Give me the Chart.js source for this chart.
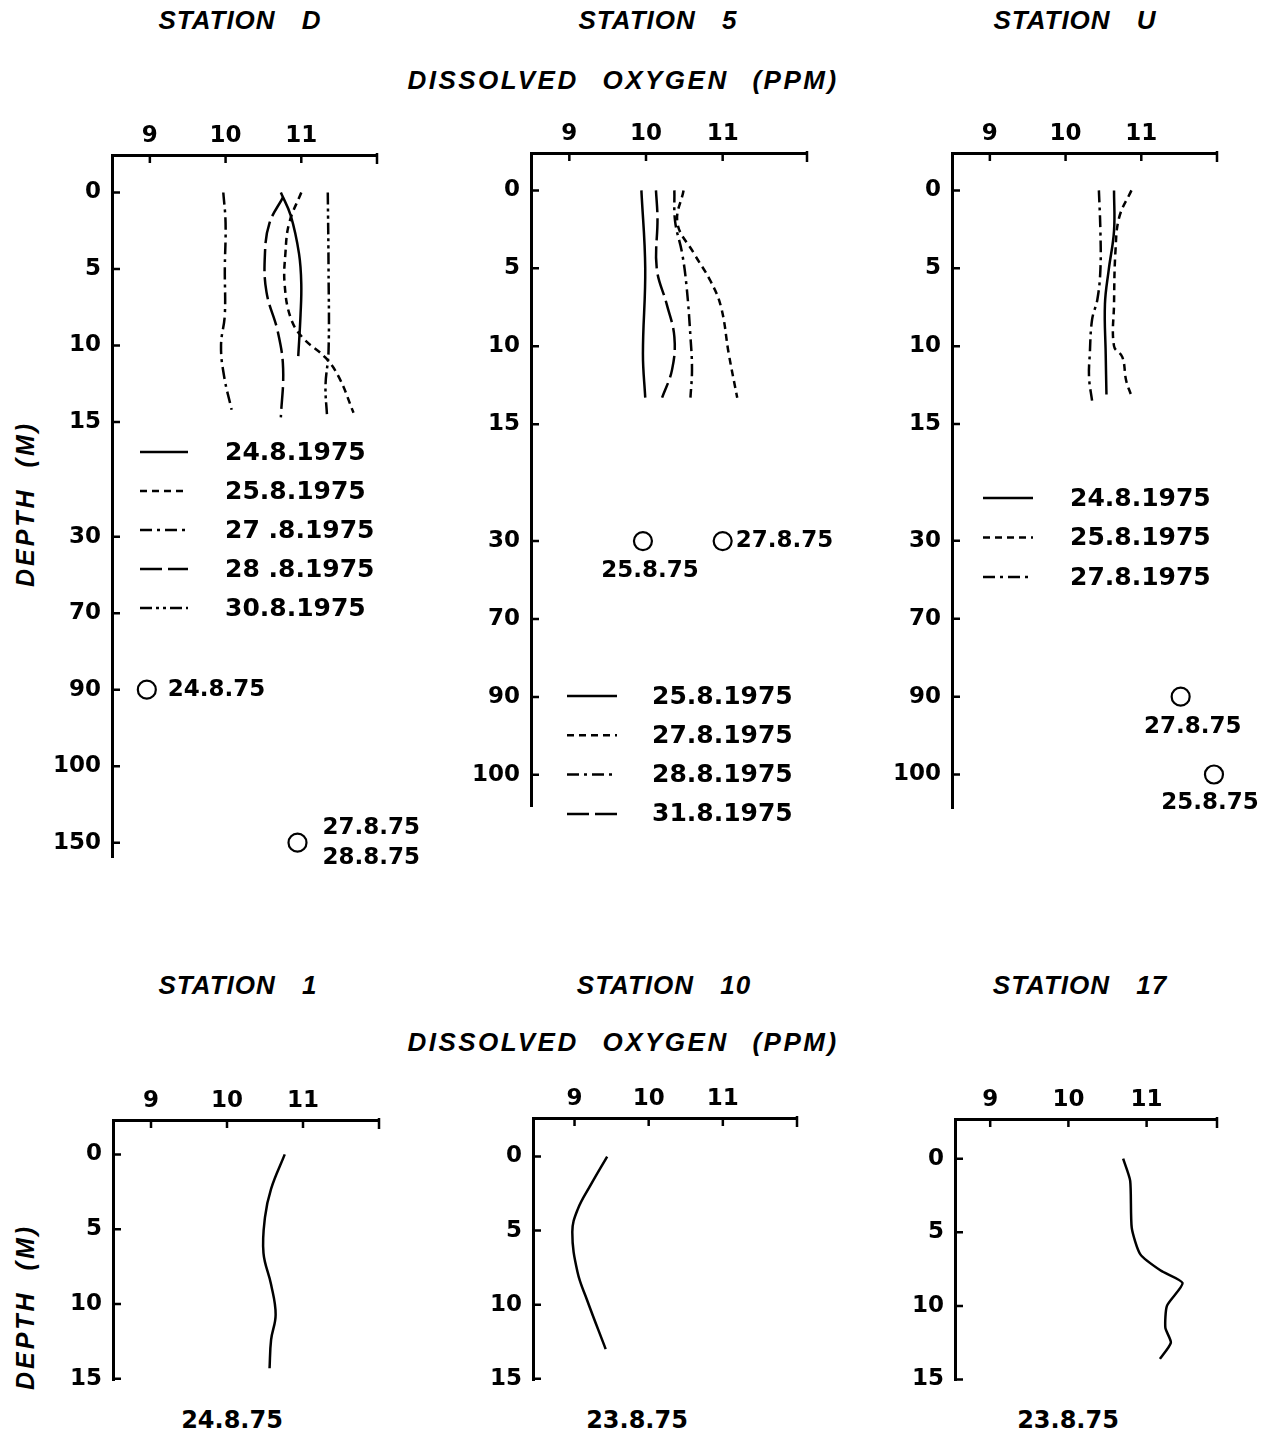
<!DOCTYPE html>
<html>
<head>
<meta charset="utf-8">
<script src="https://cdn.jsdelivr.net/npm/chart.js@4.4.1/dist/chart.umd.min.js"></script>
<style>
  html, body { margin: 0; padding: 0; background: #fff; }
  #page { position: relative; width: 1281px; height: 1437px; overflow: hidden; background: #fff; }
  #page canvas { position: absolute; }
  .t { position: absolute; transform: translate(-50%, -50%); white-space: nowrap; color: #000;
       font-family: "Liberation Sans", Arial, sans-serif; font-weight: bold; font-style: italic;
       font-size: 26px; letter-spacing: 1px; word-spacing: 18px; }
  .big { letter-spacing: 2.5px; word-spacing: 14px; }
  .ylab { transform: translate(-50%, -50%) rotate(-90deg); font-size: 25px; letter-spacing: 3px; word-spacing: 10px; }
  .date { font-family: "DejaVu Sans", sans-serif; font-style: normal; font-size: 24px; letter-spacing: 0; }
</style>
</head>
<body>
<div id="page">
  <div class="t" style="left:240px; top:20px;">STATION D</div>
  <div class="t" style="left:658px; top:20px;">STATION 5</div>
  <div class="t" style="left:1075px; top:20px;">STATION U</div>
  <div class="t big" style="left:623px; top:80px;">DISSOLVED OXYGEN (PPM)</div>
  <div class="t ylab" style="left:25px; top:504px;">DEPTH (M)</div>

  <div class="t" style="left:238px; top:985px;">STATION 1</div>
  <div class="t" style="left:664px; top:985px;">STATION 10</div>
  <div class="t" style="left:1080px; top:985px;">STATION 17</div>
  <div class="t big" style="left:623px; top:1042px;">DISSOLVED OXYGEN (PPM)</div>
  <div class="t ylab" style="left:25px; top:1307px;">DEPTH (M)</div>

  <div class="t date" style="left:232px; top:1420px;">24.8.75</div>
  <div class="t date" style="left:637px; top:1420px;">23.8.75</div>
  <div class="t date" style="left:1068px; top:1420px;">23.8.75</div>
</div>
<script>
// depth axis: labels and their (broken) spacing
const DEPTH_TICKS = [0, 5, 10, 15, 30, 70, 90, 100, 150];
const TICK_POS = [0, 1, 2, 3, 4.5, 5.5, 6.5, 7.5, 8.5];
const DO_TICKS = [9, 10, 11];

// ---- Station D ----
const D_248_DEPTH = [0, 1.5, 4, 6, 8, 10.7];
const D_248_DO = [10.73, 10.86, 10.97, 11.0, 10.99, 10.96];
const D_258_DEPTH = [0, 2, 4, 6, 8.2, 9.5, 10.8, 12.1, 14.4];
const D_258_DO = [11.0, 10.84, 10.79, 10.78, 10.86, 11.02, 11.32, 11.5, 11.69];
const D_278_DEPTH = [0, 2, 5, 8, 10, 12, 14.2];
const D_278_DO = [9.97, 10.0, 9.99, 9.99, 9.94, 9.98, 10.08];
const D_288_DEPTH = [0.3, 2, 4, 6.5, 9.1, 11.5, 14.7];
const D_288_DO = [10.76, 10.58, 10.52, 10.54, 10.69, 10.76, 10.73];
const D_308_DEPTH = [0, 5, 10.4, 12.6, 14.6];
const D_308_DO = [11.35, 11.36, 11.36, 11.32, 11.34];
const D_PT_DEPTH = [90, 150];
const D_PT_DO = [8.96, 10.95];
const D_PT_LABEL = [['24.8.75'], ['27.8.75', '28.8.75']];

// ---- Station 5 ----
const S5_258_DEPTH = [0, 5, 10.5, 13.3];
const S5_258_DO = [9.94, 9.99, 9.96, 9.99];
const S5_278_DEPTH = [0, 2.1, 4, 5.8, 7.5, 10.5, 13.3];
const S5_278_DO = [10.49, 10.41, 10.62, 10.84, 10.98, 11.08, 11.19];
const S5_288_DEPTH = [0, 2, 4, 6.2, 9.4, 11.5, 13.3];
const S5_288_DO = [10.37, 10.38, 10.47, 10.53, 10.58, 10.6, 10.58];
const S5_318_DEPTH = [0, 1.8, 5, 7.3, 9.4, 11.5, 13.3];
const S5_318_DO = [10.13, 10.15, 10.14, 10.27, 10.37, 10.34, 10.21];
const S5_PT_DEPTH = [30, 30];
const S5_PT_DO = [9.96, 11.0];
const S5_PT_LABEL = [['25.8.75'], ['27.8.75']];

// ---- Station U ----
const U_248_DEPTH = [0, 2.6, 5.1, 7.3, 10.5, 13.1];
const U_248_DO = [10.64, 10.64, 10.57, 10.52, 10.53, 10.54];
const U_258_DEPTH = [0, 1.7, 3.8, 7.3, 10, 10.7, 12.2, 13.2];
const U_258_DO = [10.87, 10.71, 10.66, 10.64, 10.64, 10.75, 10.8, 10.87];
const U_278_DEPTH = [0, 2.6, 5.1, 7, 8.3, 10.5, 12, 13.5];
const U_278_DO = [10.44, 10.46, 10.46, 10.42, 10.35, 10.32, 10.31, 10.35];
const U_PT_DEPTH = [90, 100];
const U_PT_DO = [11.52, 11.96];
const U_PT_LABEL = [['27.8.75'], ['25.8.75']];

// ---- bottom row ----
const S1_DEPTH = [0, 2.3, 4.2, 6.6, 8.7, 10.7, 12.4, 14.3];
const S1_DO = [10.76, 10.58, 10.5, 10.48, 10.58, 10.64, 10.58, 10.56];
const S10_DEPTH = [0, 1.9, 3.6, 5.1, 7.8, 9.7, 13.0];
const S10_DO = [9.44, 9.22, 9.04, 8.97, 9.04, 9.17, 9.42];
const S17_DEPTH = [0, 1.5, 4.7, 6.5, 7.6, 8.45, 10.0, 11.5, 12.5, 13.6];
const S17_DO = [10.7, 10.79, 10.81, 10.92, 11.18, 11.46, 11.26, 11.24, 11.31, 11.17];

// line styles
const SOLID = [];
const SHORT_DASH = [7, 5];
const DASH_DOT = [12, 5, 3, 5];
const LONG_DASH = [22, 6];
const DASH_DOT_DOT = [12, 4, 3, 4, 3, 4];

function depthToPos(d) {
  for (let i = 1; i < DEPTH_TICKS.length; i++) {
    if (d <= DEPTH_TICKS[i]) {
      const f = (d - DEPTH_TICKS[i - 1]) / (DEPTH_TICKS[i] - DEPTH_TICKS[i - 1]);
      return TICK_POS[i - 1] + f * (TICK_POS[i] - TICK_POS[i - 1]);
    }
  }
  return TICK_POS[TICK_POS.length - 1];
}

function profile(label, depths, values, dash, tension) {
  return {
    label: label,
    data: depths.map((d, i) => ({ x: values[i], y: depthToPos(d) })),
    showLine: true,
    borderColor: '#000',
    borderWidth: 2.5,
    borderDash: dash,
    pointRadius: 0,
    tension: tension === undefined ? 0.4 : tension,
    clip: false
  };
}

function points(depths, values) {
  return {
    isPoint: true,
    data: depths.map((d, i) => ({ x: values[i], y: depthToPos(d) })),
    showLine: false,
    pointRadius: 9,
    pointBorderWidth: 2.2,
    pointBorderColor: '#000',
    pointBackgroundColor: '#fff',
    clip: false
  };
}

const TICK_FONT = { family: 'DejaVu Sans', weight: 'bold', size: 23 };

const decor = {
  id: 'decor',
  afterDraw(chart, args, opts) {
    const { ctx, chartArea: a, scales: { x, y } } = chart;
    ctx.save();
    ctx.strokeStyle = '#000';
    ctx.fillStyle = '#000';
    ctx.lineWidth = 2.5;
    ctx.setLineDash([]);
    // inward tick marks
    ctx.beginPath();
    x.ticks.forEach(t => {
      const px = x.getPixelForValue(t.value);
      ctx.moveTo(px, a.top); ctx.lineTo(px, a.top + 8);
    });
    ctx.moveTo(a.right, a.top - 2); ctx.lineTo(a.right, a.top + 9);
    y.ticks.forEach(t => {
      const py = y.getPixelForValue(t.value);
      ctx.moveTo(a.left, py); ctx.lineTo(a.left + 8, py);
    });
    ctx.stroke();

    // legend inside the plot
    if (opts.legend) {
      const L = opts.legend;
      ctx.font = 'bold 25px "DejaVu Sans"';
      ctx.textBaseline = 'middle';
      ctx.textAlign = 'left';
      let row = 0;
      chart.data.datasets.forEach(ds => {
        if (ds.isPoint) return;
        const yy = a.top + L.y0 + row * L.step;
        ctx.lineWidth = 2.5;
        ctx.setLineDash(ds.borderDash || []);
        ctx.beginPath();
        ctx.moveTo(a.left + L.x0, yy);
        ctx.lineTo(a.left + L.x1, yy);
        ctx.stroke();
        ctx.setLineDash([]);
        ctx.fillText(ds.label, a.left + L.tx, yy + 1);
        row++;
      });
    }

    // labels next to the single deep readings
    if (opts.pointLabels) {
      ctx.font = 'bold 23px "DejaVu Sans"';
      ctx.textBaseline = 'middle';
      chart.data.datasets.forEach((ds, di) => {
        if (!ds.isPoint) return;
        const meta = chart.getDatasetMeta(di);
        meta.data.forEach((el, i) => {
          const p = opts.pointLabels[i];
          const lines = ds.texts[i];
          ctx.textAlign = p.align;
          const h = 30;
          const y0 = el.y + p.dy - (lines.length - 1) * h / 2;
          lines.forEach((s, k) => ctx.fillText(s, el.x + p.dx, y0 + k * h));
        });
      });
    }
    ctx.restore();
  }
};

const page = document.getElementById('page');

function makePanel(spec, datasets, decorOpts) {
  const YW = 70, XH = 45, PL = 5;
  const w = PL + YW + spec.plotW + spec.padR;
  const h = XH + spec.plotH + spec.padB;
  const cv = document.createElement('canvas');
  cv.width = w; cv.height = h;
  cv.style.left = (spec.axisX - PL - YW) + 'px';
  cv.style.top = (spec.axisY - XH) + 'px';
  cv.style.width = w + 'px';
  cv.style.height = h + 'px';
  page.appendChild(cv);

  const depthTicks = DEPTH_TICKS.filter(d => depthToPos(d) <= spec.yMax);

  new Chart(cv, {
    type: 'scatter',
    data: { datasets: datasets },
    options: {
      responsive: false,
      animation: false,
      devicePixelRatio: 1,
      events: [],
      layout: { padding: { left: PL, right: spec.padR, top: 0, bottom: spec.padB } },
      plugins: {
        legend: { display: false },
        tooltip: { enabled: false },
        decor: decorOpts
      },
      scales: {
        x: {
          type: 'linear',
          position: 'top',
          min: spec.xMin,
          max: spec.xMax,
          grid: { display: false, drawTicks: false },
          border: { display: true, width: 3, color: '#000' },
          ticks: { color: '#000', font: TICK_FONT, padding: 5, autoSkip: false, maxRotation: 0 },
          afterBuildTicks: s => { s.ticks = DO_TICKS.map(v => ({ value: v })); },
          afterFit: s => { s.height = XH; }
        },
        y: {
          type: 'linear',
          position: 'left',
          reverse: true,
          min: spec.yMin,
          max: spec.yMax,
          grid: { display: false, drawTicks: false },
          border: { display: true, width: 3, color: '#000' },
          ticks: {
            color: '#000', font: TICK_FONT, padding: 11, autoSkip: false,
            callback: v => DEPTH_TICKS[TICK_POS.indexOf(v)]
          },
          afterBuildTicks: s => { s.ticks = depthTicks.map(d => ({ value: depthToPos(d) })); },
          afterFit: s => { s.width = YW; }
        }
      }
    },
    plugins: [decor]
  });
}

// Station D
const dPts = points(D_PT_DEPTH, D_PT_DO); dPts.texts = D_PT_LABEL;
makePanel(
  { axisX: 112, axisY: 155, plotW: 265, plotH: 707, xMin: 8.5, xMax: 12, yMin: -0.49, yMax: 8.69, padR: 65, padB: 20 },
  [
    profile('24.8.1975', D_248_DEPTH, D_248_DO, SOLID),
    profile('25.8.1975', D_258_DEPTH, D_258_DO, SHORT_DASH),
    profile('27 .8.1975', D_278_DEPTH, D_278_DO, DASH_DOT),
    profile('28 .8.1975', D_288_DEPTH, D_288_DO, LONG_DASH),
    profile('30.8.1975', D_308_DEPTH, D_308_DO, DASH_DOT_DOT),
    dPts
  ],
  {
    legend: { x0: 28, x1: 76, tx: 113, y0: 297, step: 39 },
    pointLabels: [{ dx: 21, dy: 0, align: 'left' }, { dx: 25, dy: 0, align: 'left' }]
  }
);

// Station 5
const s5Pts = points(S5_PT_DEPTH, S5_PT_DO); s5Pts.texts = S5_PT_LABEL;
makePanel(
  { axisX: 531, axisY: 153, plotW: 276, plotH: 653, xMin: 8.5, xMax: 12.1, yMin: -0.48, yMax: 7.9, padR: 40, padB: 40 },
  [
    profile('25.8.1975', S5_258_DEPTH, S5_258_DO, SOLID),
    profile('27.8.1975', S5_278_DEPTH, S5_278_DO, SHORT_DASH),
    profile('28.8.1975', S5_288_DEPTH, S5_288_DO, DASH_DOT),
    profile('31.8.1975', S5_318_DEPTH, S5_318_DO, LONG_DASH),
    s5Pts
  ],
  {
    legend: { x0: 36, x1: 86, tx: 121, y0: 543, step: 39.3 },
    pointLabels: [{ dx: 7, dy: 30, align: 'center' }, { dx: 13, dy: 0, align: 'left' }]
  }
);

// Station U
const uPts = points(U_PT_DEPTH, U_PT_DO); uPts.texts = U_PT_LABEL;
makePanel(
  { axisX: 952, axisY: 153, plotW: 265, plotH: 655, xMin: 8.5, xMax: 12, yMin: -0.48, yMax: 7.93, padR: 62, padB: 30 },
  [
    profile('24.8.1975', U_248_DEPTH, U_248_DO, SOLID),
    profile('25.8.1975', U_258_DEPTH, U_258_DO, SHORT_DASH),
    profile('27.8.1975', U_278_DEPTH, U_278_DO, DASH_DOT),
    uPts
  ],
  {
    legend: { x0: 31, x1: 81, tx: 118, y0: 345, step: 39.5 },
    pointLabels: [{ dx: 12, dy: 30, align: 'center' }, { dx: -4, dy: 29, align: 'center' }]
  }
);

// Station 1, 10, 17
makePanel(
  { axisX: 113, axisY: 1120, plotW: 266, plotH: 270, xMin: 8.5, xMax: 12, yMin: -0.46, yMax: 3.02, padR: 20, padB: 15 },
  [profile('24.8.75', S1_DEPTH, S1_DO, SOLID)],
  {}
);
makePanel(
  { axisX: 533, axisY: 1118, plotW: 264, plotH: 272, xMin: 8.44, xMax: 12, yMin: -0.52, yMax: 3.02, padR: 20, padB: 15 },
  [profile('23.8.75', S10_DEPTH, S10_DO, SOLID)],
  {}
);
makePanel(
  { axisX: 955, axisY: 1119, plotW: 262, plotH: 271, xMin: 8.55, xMax: 11.9, yMin: -0.54, yMax: 3.01, padR: 20, padB: 15 },
  [profile('23.8.75', S17_DEPTH, S17_DO, SOLID, 0.2)],
  {}
);
</script>
</body>
</html>
